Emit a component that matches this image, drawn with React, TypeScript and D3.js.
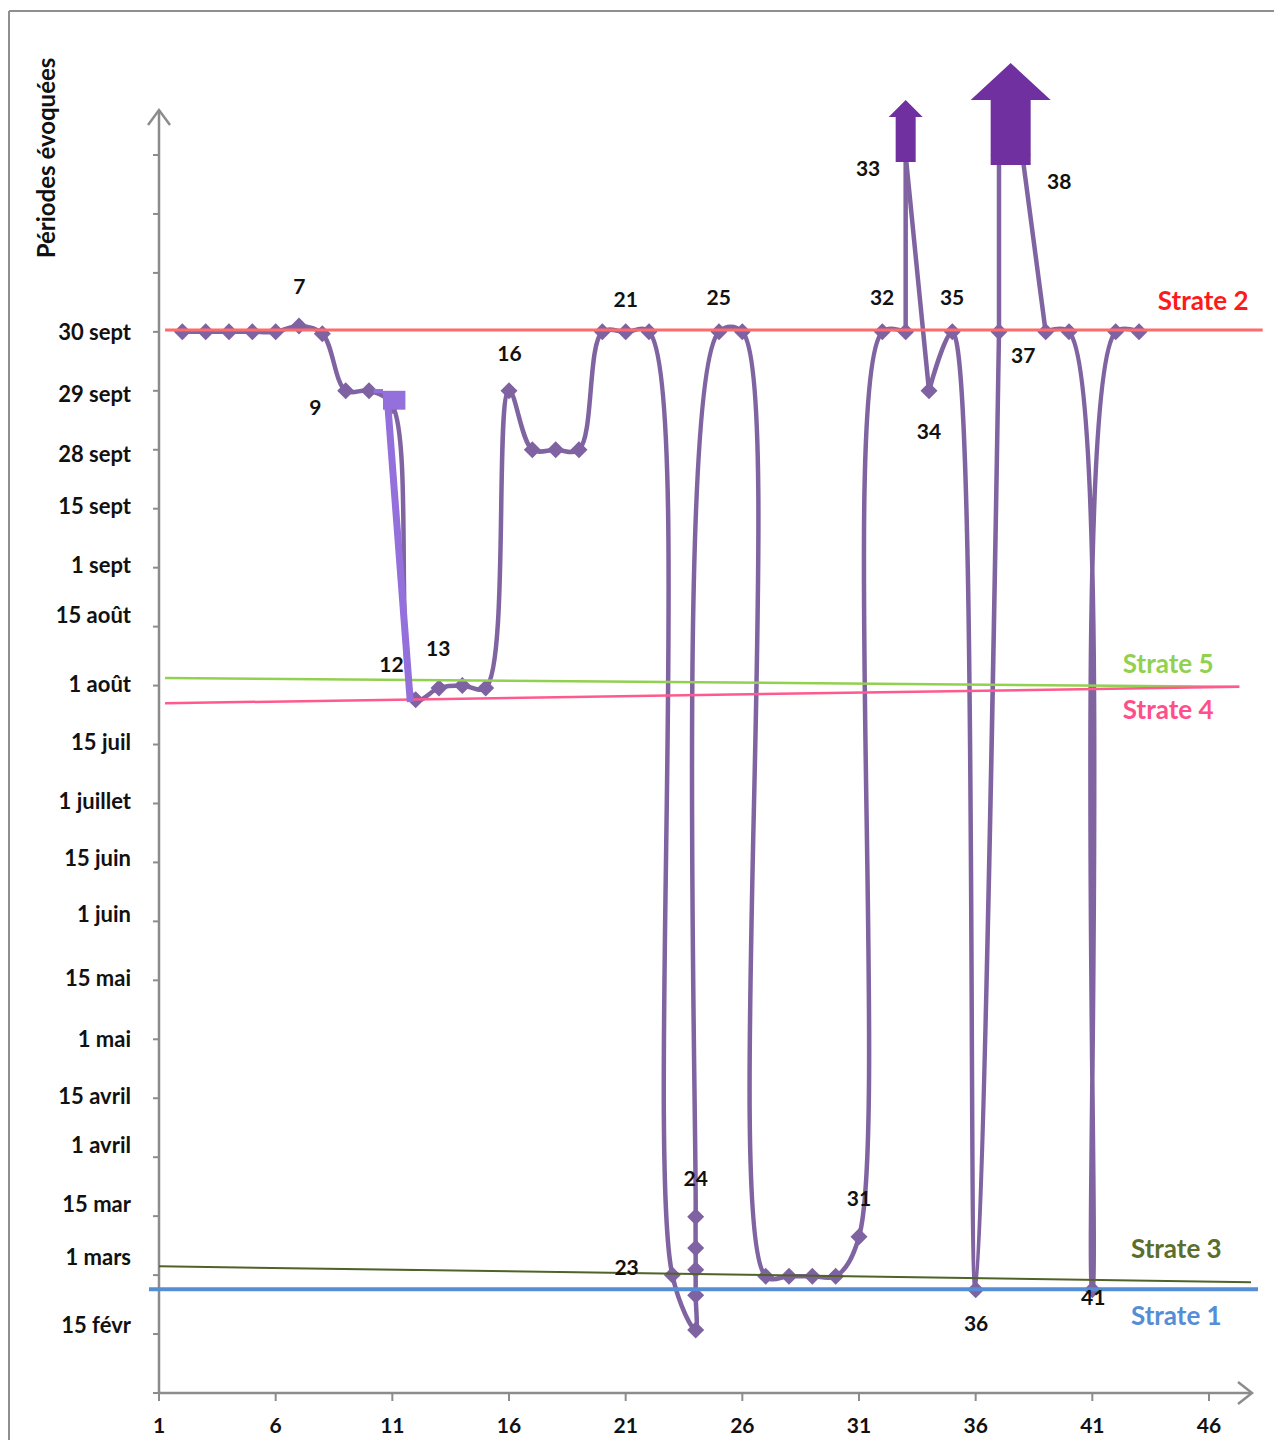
import React from 'react';
import * as d3 from 'd3';

// ---- Data ----
const xTicks = [1, 6, 11, 16, 21, 26, 31, 36, 41, 46];
const yMajorTicks = d3.range(0, 22); // 0..21 units

const yLabelText = ['15 févr', '1 mars', '15 mar', '1 avril', '15 avril', '1 mai', '15 mai', '1 juin', '15 juin', '1 juillet', '15 juil', '1 août', '15 août', '1 sept', '15 sept', '28 sept', '29 sept', '30 sept'];
const yLabelValue = [1.12, 2.26, 3.16, 4.17, 5.0, 5.97, 7.0, 8.09, 9.04, 10.01, 11.01, 11.99, 13.15, 14.01, 15.01, 15.89, 16.9, 17.95];

// points that run off the scale (under the arrows) have value 21
const seriesX = [2, 3, 4, 5, 6, 7, 8, 9, 10, 11, 12, 13, 14, 15, 16, 17, 18, 19, 20, 21, 22, 23, 24, 24, 24, 24, 24, 25, 26, 27, 28, 29, 30, 31, 32, 33, 33, 34, 35, 36, 37, 37, 38, 39, 40, 41, 42, 43];
const seriesY = [18, 18, 18, 18, 18, 18.1, 17.97, 17, 17, 16.75, 11.76, 11.96, 12, 11.96, 17, 16, 16, 16, 18, 18, 18, 2.0, 1.07, 1.66, 2.09, 2.46, 2.99, 18, 18, 1.98, 1.98, 1.98, 1.98, 2.65, 18, 18, 21, 17, 18, 1.75, 18, 21, 21, 18, 18, 1.75, 18, 18];

const pointLabels = ['7', '9', '12', '13', '16', '21', '25', '23', '24', '31', '32', '33', '34', '35', '36', '37', '38', '41'];
const pointLabelX = [7.01, 7.7, 10.96, 12.97, 16.02, 21.0, 24.99, 21.04, 24.0, 31.0, 31.99, 31.39, 34.0, 34.99, 36.02, 38.04, 39.58, 41.04];
const pointLabelY = [18.73, 16.68, 12.33, 12.59, 17.59, 18.51, 18.54, 2.09, 3.6, 3.26, 18.54, 20.73, 16.28, 18.54, 1.15, 17.56, 20.51, 1.59];

const strateNames = ['Strate 2', 'Strate 5', 'Strate 4', 'Strate 3', 'Strate 1'];
const strateX1 = [1.26, 1.26, 1.26, 1.0, 0.57];
const strateY1 = [18.03, 12.13, 11.7, 2.15, 1.76];
const strateX2 = [48.3, 47.3, 47.3, 47.8, 48.1];
const strateY2 = [18.03, 11.98, 11.98, 1.88, 1.76];
const strateLabelX = [45.75, 44.25, 44.25, 44.6, 44.6];
const strateLabelY = [18.48, 12.33, 11.55, 2.41, 1.26];

const arrowX = [33, 37.5];
const arrowY = [20.88, 20.83];

const strateColors = ['#FF6B6B', '#92D050', '#FF5A8E', '#4F6228', '#558ED5'];
const strateLabelColors = ['#FF1A1A', '#92D050', '#FF4F8A', '#5B6E2C', '#558ED5'];
const strateWidths = [3, 2.5, 2.5, 2, 4];

export default function App() {
  const W = 1274, H = 1440;
  const x = d3.scaleLinear().domain([1, 46]).range([159, 1209]);
  const y = d3.scaleLinear().domain([0, 21]).range([1393, 155]);

  const pts: [number, number][] = seriesX.map((v, i) => [x(v), y(seriesY[i])]);
  const off = seriesY.map(v => v > 20.5);
  const curveLine = d3.line<[number, number]>().curve(d3.curveCatmullRom.alpha(0.5));
  const straight = d3.line<[number, number]>();
  const pieces: string[] = [];
  let run: [number, number][] = [];
  pts.forEach((p, i) => {
    if (!off[i]) run.push(p);
    else { if (run.length > 1) pieces.push(curveLine(run) || ''); run = []; }
  });
  if (run.length > 1) pieces.push(curveLine(run) || '');
  for (let i = 0; i < pts.length - 1; i++) {
    if (off[i] || off[i + 1]) pieces.push(straight([pts[i], pts[i + 1]]) || '');
  }

  const font = 'Lato, "Open Sans", sans-serif';
  const axisColor = '#8C8C8C';

  const diamond = (cx: number, cy: number, r: number) => `M${cx},${cy - r}L${cx + r},${cy}L${cx},${cy + r}L${cx - r},${cy}Z`;

  // arrows: [bodyHalfW, headHalfW, bodyH, headH]
  const arrowDims = [[10, 17, 45, 17], [20, 40, 65, 37]];

  // overlay correction stroke (light purple)
  const ovX1 = x(10.79), ovY1 = y(16.85), ovX2 = x(11.77), ovY2 = y(11.72);

  return (
    <svg width={W} height={H} style={{ position: 'absolute', left: 0, top: 0, background: '#fff' }} xmlns="http://www.w3.org/2000/svg">
      <rect x={0} y={0} width={W} height={H} fill="#fff" />
      {/* frame */}
      <line x1={9} y1={11} x2={W} y2={11} stroke="#8F8F8F" strokeWidth={2} />
      <line x1={9} y1={11} x2={9} y2={H} stroke="#8F8F8F" strokeWidth={2} />

      {/* y axis title */}
      <text transform={`translate(55,158) rotate(-90)`} textAnchor="middle" fontFamily={font} fontWeight={700} fontSize={24} fill="#111">Périodes évoquées</text>

      {/* axes */}
      <line x1={x(1)} y1={y(0)} x2={x(1)} y2={110} stroke={axisColor} strokeWidth={2.5} />
      <polyline points={`${x(1) - 11},${125} ${x(1)},${110} ${x(1) + 11},${125}`} fill="none" stroke={axisColor} strokeWidth={2.5} />
      <line x1={x(1)} y1={y(0)} x2={1252} y2={y(0)} stroke={axisColor} strokeWidth={2.5} />
      <polyline points={`${1238},${y(0) - 11} ${1252},${y(0)} ${1238},${y(0) + 11}`} fill="none" stroke={axisColor} strokeWidth={2.5} />
      {yMajorTicks.map(t => (
        <line key={'yt' + t} x1={x(1) - 6} x2={x(1)} y1={y(t)} y2={y(t)} stroke={axisColor} strokeWidth={2} />
      ))}
      {xTicks.map(t => (
        <line key={'xt' + t} x1={x(t)} x2={x(t)} y1={y(0)} y2={y(0) + 8} stroke={axisColor} strokeWidth={2} />
      ))}
      {xTicks.map(t => (
        <text key={'xl' + t} x={x(t)} y={1428} textAnchor="middle" dominantBaseline="middle" fontFamily={font} fontWeight={700} fontSize={21} fill="#111">{t}</text>
      ))}
      {yLabelText.map((s, i) => (
        <text key={'yl' + i} x={131} y={y(yLabelValue[i])} textAnchor="end" dominantBaseline="middle" fontFamily={font} fontWeight={700} fontSize={22} fill="#111">{s}</text>
      ))}

      {/* series */}
      {pieces.map((d, i) => (
        <path key={'p' + i} d={d} fill="none" stroke="#8064A2" strokeWidth={4.5} strokeLinejoin="round" strokeLinecap="round" />
      ))}
      {pts.map((p, i) => (
        <path key={'m' + i} d={diamond(p[0], p[1], 8.5)} fill="#7F62A1" />
      ))}

      {/* strate lines */}
      {strateNames.map((n, i) => (
        <line key={'s' + i} x1={x(strateX1[i])} y1={y(strateY1[i])} x2={x(strateX2[i])} y2={y(strateY2[i])} stroke={strateColors[i]} strokeWidth={strateWidths[i]} />
      ))}
      {strateNames.map((n, i) => (
        <text key={'sl' + i} x={x(strateLabelX[i])} y={y(strateLabelY[i])} textAnchor="middle" dominantBaseline="middle" fontFamily={font} fontWeight={700} fontSize={26} fill={strateLabelColors[i]}>{n}</text>
      ))}

      {/* arrows */}
      {arrowX.map((ax, i) => {
        const [bw, hw, bh, hh] = arrowDims[i];
        const cx = x(ax), by = y(arrowY[i]);
        const d = `M${cx - bw},${by}L${cx - bw},${by - bh}L${cx - hw},${by - bh}L${cx},${by - bh - hh}L${cx + hw},${by - bh}L${cx + bw},${by - bh}L${cx + bw},${by}Z`;
        return <path key={'a' + i} d={d} fill="#7030A0" />;
      })}

      {/* overlay correction stroke */}
      <line x1={ovX1} y1={ovY1} x2={ovX2} y2={ovY2} stroke="#9370DB" strokeWidth={7} />
      <rect x={x(10.6)} y={y(17.0)} width={x(11.56) - x(10.6)} height={y(16.68) - y(17.0)} fill="#9370DB" />
      <rect x={x(10.2)} y={y(17.03)} width={x(10.6) - x(10.2)} height={4} fill="#9370DB" />

      {/* point labels */}
      {pointLabels.map((s, i) => (
        <text key={'pl' + i} x={x(pointLabelX[i])} y={y(pointLabelY[i])} textAnchor="middle" dominantBaseline="middle" fontFamily={font} fontWeight={700} fontSize={21} fill="#111">{s}</text>
      ))}
    </svg>
  );
}
